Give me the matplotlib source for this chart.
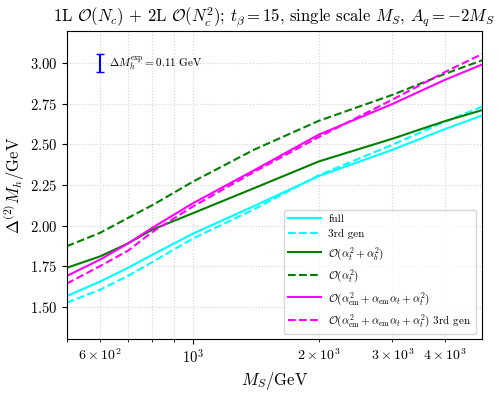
import numpy as np
import matplotlib
matplotlib.use("Agg")
import matplotlib.pyplot as plt

plt.rcParams["font.family"] = ["serif"]
plt.rcParams["font.serif"] = ["cmr10", "DejaVu Serif"]
plt.rcParams["mathtext.fontset"] = "cm"
plt.rcParams["axes.formatter.use_mathtext"] = True
plt.rcParams["axes.unicode_minus"] = False

# SUSY scale in GeV
ms = [500, 600, 700, 800, 1000, 1400, 2000, 3000, 4000, 5000]

# Delta^(2) M_h / GeV
full = [1.566, 1.655, 1.74, 1.82, 1.95, 2.12, 2.305, 2.467, 2.594, 2.685]
full_3rd = [1.525, 1.605, 1.69, 1.775, 1.92, 2.10, 2.31, 2.498, 2.64, 2.74]
at_ab = [1.74, 1.81, 1.89, 1.975, 2.076, 2.23, 2.395, 2.535, 2.643, 2.717]
at_only = [1.873, 1.955, 2.047, 2.125, 2.27, 2.467, 2.645, 2.805, 2.934, 3.025]
em = [1.69, 1.79, 1.89, 1.986, 2.137, 2.34, 2.56, 2.749, 2.897, 3.00]
em_3rd = [1.643, 1.75, 1.845, 1.96, 2.117, 2.33, 2.545, 2.776, 2.945, 3.066]

labels = [
    "full",
    "3rd gen",
    r"$\mathcal{O}(\alpha_t^2+\alpha_b^2)$",
    r"$\mathcal{O}(\alpha_t^2)$",
    r"$\mathcal{O}(\alpha_{\rm em}^2+\alpha_{\rm em}\alpha_t+\alpha_t^2)$",
    r"$\mathcal{O}(\alpha_{\rm em}^2+\alpha_{\rm em}\alpha_t+\alpha_t^2)$ 3rd gen",
]

fig = plt.figure(figsize=(4.99, 3.94), dpi=100)
ax = fig.add_axes([0.1337, 0.1388, 0.8316, 0.7833])

ax.plot(ms, full, color="cyan", ls="-", lw=1.5, label=labels[0])
ax.plot(ms, full_3rd, color="cyan", ls="--", lw=1.5, label=labels[1])
ax.plot(ms, at_ab, color="green", ls="-", lw=1.5, label=labels[2])
ax.plot(ms, at_only, color="green", ls="--", lw=1.5, label=labels[3])
ax.plot(ms, em, color="magenta", ls="-", lw=1.5, label=labels[4])
ax.plot(ms, em_3rd, color="magenta", ls="--", lw=1.5, label=labels[5])

# experimental uncertainty bar
ax.errorbar([600], [3.0], yerr=[0.055], color="blue", capsize=3, lw=1.5)
ax.text(630, 3.0, r"$\Delta M_h^{\rm exp} = 0.11$ GeV", fontsize=8, va="center")

ax.set_xscale("log")
ax.set_xlim(500, 4900)
ax.set_ylim(1.30, 3.20)
ax.grid(True, which="both", ls=":", color="lightgray")
ax.tick_params(labelsize=10.5)

ax.set_xlabel(r"$M_S/\mathrm{GeV}$", fontsize=12, labelpad=2)
ax.set_ylabel(r"$\Delta^{(2)} M_h/\mathrm{GeV}$", fontsize=12, labelpad=2)
ax.set_title(r"1L $\mathcal{O}(N_c)$ + 2L $\mathcal{O}(N_c^2)$; $t_\beta = 15$, single scale $M_S$, $A_q = -2M_S$",
             fontsize=12)
ax.legend(loc="lower right", fontsize=8, handlelength=2.9, handletextpad=0.7)

fig.savefig("out.png", dpi=100)
